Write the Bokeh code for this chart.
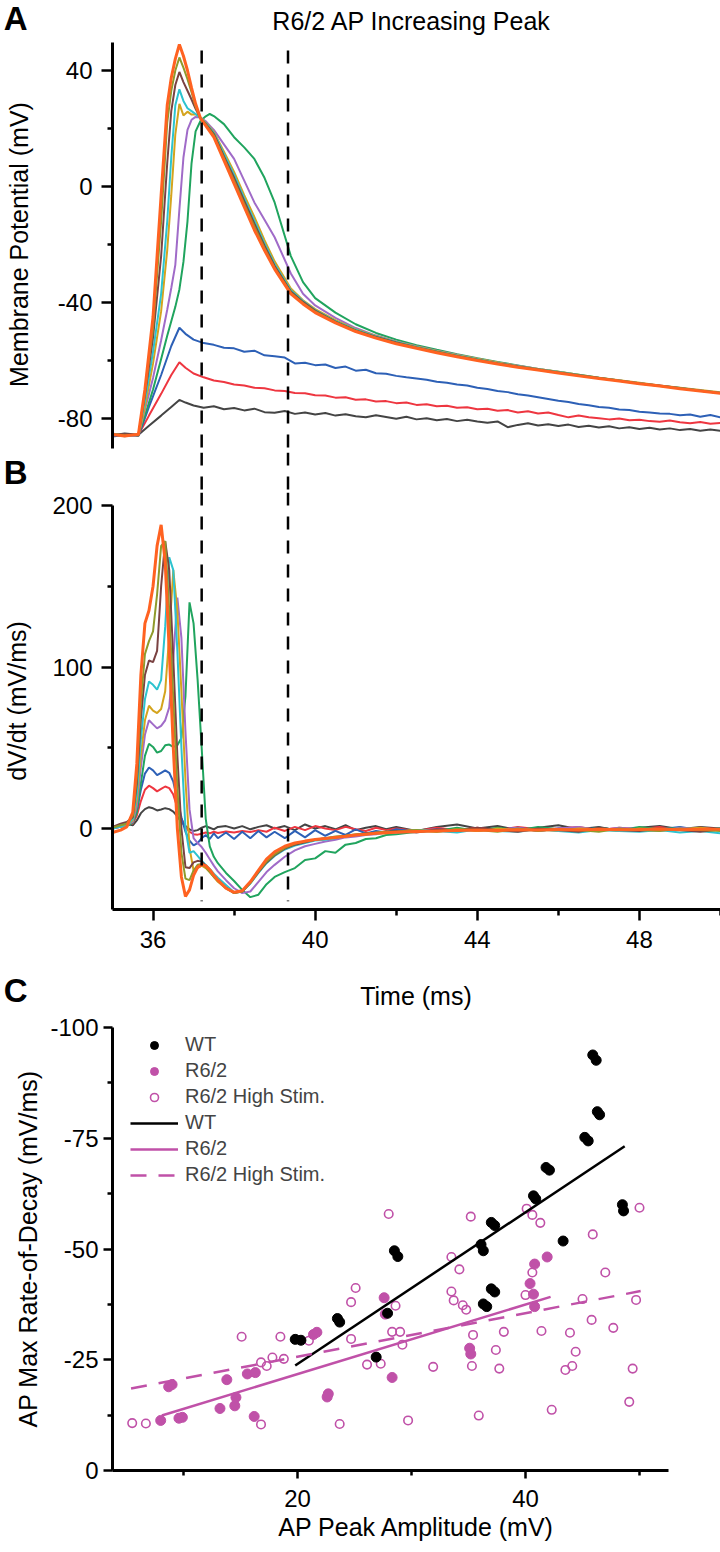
from bokeh.plotting import figure
from bokeh.layouts import column
from bokeh.models import Range1d, FixedTicker, PrintfTickFormatter, Legend, LegendItem
from bokeh.core.properties import value
from bokeh.embed import file_html
from bokeh.resources import INLINE

FONT = "Liberation Sans"

# ---------------- Panel A : membrane potential (mV) ----------------
TA = [35.0, 35.3, 35.64, 35.8, 36.0, 36.2, 36.35, 36.45, 36.55, 36.65,
      36.75, 36.85, 36.95, 37.05, 37.17, 37.3, 37.4, 37.5, 37.75, 38.0,
      38.25, 38.5, 38.75, 39.0, 39.4, 39.7, 40.0, 40.5, 41.0, 41.5,
      42.0, 42.5, 43.0, 43.5, 44.0, 44.5, 45.0, 45.5, 46.0, 46.5,
      47.0, 47.5, 48.0, 48.5, 49.0, 49.5, 50.0]

T_SUB = [35.0, 35.3, 35.64, 35.9, 36.2, 36.45, 36.65, 36.8, 37.0, 37.25,
         37.5, 37.75, 38.0, 38.25, 38.5, 38.75, 39.0, 39.25, 39.5, 39.75,
         40.0, 40.25, 40.5, 40.75, 41.0, 41.25, 41.5, 41.75, 42.0, 42.25,
         42.5, 42.75, 43.0, 43.25, 43.5, 43.75, 44.0, 44.25, 44.5, 44.75,
         45.0, 45.25, 45.5, 45.75, 46.0, 46.25, 46.5, 46.75, 47.0, 47.25,
         47.5, 47.75, 48.0, 48.25, 48.5, 48.75, 49.0, 49.25, 49.5, 49.75, 50.0]

GRAY_A = [-85.8, -85.2, -85.6, -82.5, -79.0, -76.0, -73.6, -74.5, -75.5, -76.3,
          -75.8, -76.8, -76.4, -77.2, -76.6, -77.8, -78.0, -77.4, -78.4, -77.9,
          -78.6, -78.1, -79.0, -78.5, -79.2, -79.6, -78.9, -79.5, -80.1, -79.4,
          -80.3, -79.9, -80.6, -80.2, -80.9, -80.4, -81.0, -81.5, -81.0, -83.0,
          -82.2, -81.6, -82.4, -82.0, -82.6, -82.1, -82.9, -82.5, -83.1, -82.7,
          -83.4, -83.0, -83.6, -83.2, -83.8, -83.4, -84.0, -83.6, -84.2, -83.8, -84.2]
RED_A = [-85.5, -86.0, -85.6, -79.0, -71.5, -65.0, -60.6, -62.5, -64.5, -65.8,
         -66.9, -67.4, -68.3, -68.6, -69.4, -69.6, -70.3, -70.5, -71.2, -71.3,
         -72.0, -72.1, -72.8, -72.7, -73.5, -73.4, -74.1, -74.0, -74.7, -74.5,
         -75.3, -75.1, -75.8, -75.6, -76.3, -76.1, -76.8, -76.6, -77.3, -77.1,
         -77.9, -77.5, -78.3, -77.9, -78.8, -79.6, -79.0, -79.6, -79.9, -80.3,
         -80.0, -80.6, -80.4, -80.9, -81.1, -80.7, -81.3, -81.6, -81.2, -81.8, -81.5]
BLUE_A = [-86.2, -85.7, -86.0, -76.0, -65.0, -55.0, -48.7, -50.8, -52.8, -54.0,
          -54.6, -55.6, -55.8, -57.0, -56.6, -58.2, -58.5, -59.0, -61.0, -60.8,
          -61.6, -61.4, -62.6, -62.1, -63.5, -63.2, -64.4, -64.6, -65.3, -65.8,
          -66.2, -66.6, -67.3, -67.7, -68.3, -68.6, -69.4, -69.8, -70.5, -70.9,
          -71.6, -72.1, -72.7, -73.3, -73.9, -74.3, -75.0, -75.4, -76.0, -76.3,
          -76.9, -77.1, -77.7, -77.9, -78.3, -78.4, -78.9, -78.6, -79.4, -78.8, -79.6]
GREEN_A = [-85.6, -85.9, -85.6, -79.0, -70.0, -59.5, -51.5, -46.5, -41.5, -35.5,
           -26.0, -12.0, 8.0, 19.0, 22.6, 24.2, 25.0, 24.3, 21.5, 17.0,
           13.5, 9.5, 3.0, -5.5, -24.0, -33.0, -38.5, -43.5, -47.5, -50.5,
           -52.8, -54.7, -56.3, -57.8, -59.2, -60.5, -61.7, -62.9, -63.9, -64.9,
           -65.9, -66.9, -67.8, -68.7, -69.5, -70.4, -71.2]
PURPLE_A = [-85.2, -86.0, -85.7, -77.0, -66.0, -53.0, -42.5, -35.0, -27.0, -8.0,
            10.0, 19.5, 23.0, 24.0, 23.8, 22.5, 21.0, 19.5, 14.5, 9.5,
            2.0, -5.5, -11.5, -17.5, -30.0, -37.0, -41.0, -45.3, -48.8, -51.4,
            -53.4, -55.1, -56.6, -58.0, -59.4, -60.7, -61.8, -62.9, -64.0, -65.0,
            -66.0, -66.9, -67.8, -68.6, -69.5, -70.3, -71.1]
GOLD_A = [-85.8, -85.5, -85.9, -76.0, -61.0, -43.0, -22.0, -3.0, 18.0, 28.5,
          24.5, 25.8, 24.8, 24.9, 23.8, 22.0, 20.5, 18.8, 12.0, 5.0,
          -3.0, -10.5, -18.5, -25.8, -35.2, -39.2, -42.3, -46.1, -49.2, -51.5,
          -53.5, -55.2, -56.7, -58.1, -59.4, -60.7, -61.9, -62.9, -63.9, -64.9,
          -65.9, -66.8, -67.7, -68.6, -69.4, -70.2, -71.0]
CYAN_A = [-85.4, -86.1, -85.5, -74.0, -57.0, -37.0, -12.0, 10.0, 28.0, 33.5,
          29.5, 27.0, 26.0, 25.0, 23.6, 21.8, 20.2, 18.5, 11.2, 4.0,
          -4.0, -11.8, -19.6, -26.8, -35.8, -39.5, -42.6, -46.4, -49.4, -51.7,
          -53.6, -55.3, -56.9, -58.3, -59.6, -60.9, -62.0, -63.0, -64.0, -65.0,
          -66.0, -66.9, -67.8, -68.7, -69.5, -70.3, -71.1]
BROWN_A = [-85.7, -85.3, -85.8, -72.0, -52.0, -24.0, 8.0, 26.0, 35.0, 39.5,
           36.0, 33.0, 30.0, 26.8, 23.5, 21.6, 19.9, 18.1, 10.4, 3.0,
           -5.0, -12.8, -20.4, -27.4, -36.2, -39.8, -42.8, -46.6, -49.6, -51.9,
           -53.8, -55.5, -57.0, -58.4, -59.7, -61.0, -62.1, -63.1, -64.1, -65.1,
           -66.0, -67.0, -67.9, -68.7, -69.6, -70.4, -71.2]
OLIVE_A = [-85.3, -85.8, -85.6, -71.0, -49.0, -12.0, 22.0, 33.0, 40.0, 44.5,
           41.0, 37.0, 32.5, 27.5, 23.4, 21.3, 19.5, 17.6, 9.8, 2.0,
           -6.0, -13.8, -21.2, -28.0, -36.6, -40.2, -43.1, -46.8, -49.8, -52.1,
           -54.0, -55.6, -57.1, -58.5, -59.8, -61.1, -62.2, -63.2, -64.2, -65.2,
           -66.1, -67.0, -67.9, -68.8, -69.6, -70.4, -71.2]
ORANGE_A = [-85.5, -86.0, -85.4, -70.0, -45.0, -3.0, 28.0, 37.5, 44.0, 49.0,
            45.0, 40.0, 34.0, 28.5, 23.5, 21.0, 19.0, 17.0, 9.0, 1.0,
            -7.0, -15.0, -22.0, -28.5, -37.0, -40.5, -43.5, -47.0, -50.0, -52.3,
            -54.2, -55.8, -57.3, -58.7, -60.0, -61.2, -62.3, -63.3, -64.3, -65.3,
            -66.2, -67.1, -68.0, -68.8, -69.7, -70.5, -71.3]

A_YTICKS = [-80, -40, 0, 40]
A_YMINOR = [-60, -20, 20]

# ---------------- Panel B : dV/dt (mV/ms) ----------------
TB = [35.0, 35.2, 35.35, 35.5, 35.6, 35.7, 35.8, 35.9, 36.0, 36.1,
      36.2, 36.3, 36.4, 36.5, 36.6, 36.7, 36.8, 36.9, 37.0, 37.1,
      37.2, 37.3, 37.4, 37.5, 37.6, 37.8, 38.0, 38.2, 38.4, 38.6,
      38.8, 39.0, 39.25, 39.5, 39.75, 40.0, 40.25, 40.5, 40.75, 41.0,
      41.25, 41.5, 41.75, 42.0, 42.5, 43.0, 43.5, 44.0, 44.5, 45.0,
      45.5, 46.0, 46.5, 47.0, 47.5, 48.0, 48.5, 49.0, 49.5, 50.0]

GRAY_B = [0.5, 1.5, 3.0, 2.0, 5.0, 9.5, 12.0, 13.2, 12.5, 11.2,
          11.8, 12.6, 12.0, 10.5, 7.5, 4.0, 1.5, -0.5, -1.5, -1.0,
          0.5, 1.5, 0.5, -0.5, 1.0, 1.5, 0.0, 1.5, -0.5, 1.0,
          2.0, 0.0, 1.5, -1.0, 2.5, 0.0, 1.5, -0.5, 2.0, -1.0,
          0.5, 1.5, -0.5, 1.0, -1.5, 1.0, 2.5, 0.0, 1.5, -1.0,
          0.5, 2.0, -0.5, 1.0, -1.5, 0.5, 1.5, -0.5, 1.0, 0.0]
RED_B = [0.0, 1.0, 2.5, 3.0, 8.0, 17.0, 24.0, 26.5, 25.0, 23.0,
         24.5, 26.0, 25.0, 21.0, 13.0, 6.0, 1.0, -2.0, -3.5, -3.8,
         -3.2, -2.5, -3.0, -2.0, -2.8, -1.8, -2.5, -1.5, -2.2, -1.0,
         -2.0, 0.5, -1.5, 1.0, -1.0, 1.5, 0.0, -1.0, 1.0, -0.5,
         -1.5, 0.5, -1.0, 0.0, -1.5, 0.5, -1.0, 0.5, -1.0, 1.0,
         -0.5, 0.0, 1.0, -1.0, 0.5, -0.5, 1.0, -1.0, 0.5, -0.5]
BLUE_B = [0.0, 1.5, 2.0, 4.0, 11.0, 24.0, 34.0, 37.8, 36.0, 33.0,
          34.5, 36.0, 34.5, 29.0, 18.0, 7.0, -2.0, -7.5, -10.5, -9.0,
          -6.0, -4.0, -6.5, -3.0, -6.0, -2.5, -6.5, -2.0, -6.0, -1.5,
          -5.5, -2.0, -6.0, -1.5, -5.5, -1.0, -4.5, -1.5, -4.0, -0.5,
          -3.0, -1.5, -2.5, -0.5, -2.0, -0.5, -1.5, 0.0, -1.0, 0.5,
          -1.5, 0.0, -1.0, 0.5, -1.0, 0.0, -0.5, 1.0, -1.0, 0.0]
GREEN_B = [0.5, 2.0, 1.5, 3.5, 10.0, 28.0, 45.0, 52.5, 50.5, 47.0,
           48.0, 51.5, 52.0, 50.5, 51.5, 56.0, 82.0, 140.0, 127.0, 92.0,
           50.0, 6.0, -11.0, -17.5, -21.5, -27.5, -32.5, -38.0, -42.5, -41.0,
           -34.5, -30.0, -27.0, -24.5, -19.5, -18.5, -14.0, -15.0, -10.0, -9.0,
           -6.5, -6.0, -4.0, -3.5, -2.0, -1.5, 0.5, -1.5, 0.5, -1.0,
           1.0, -0.5, -1.5, 0.5, -1.0, 1.0, -0.5, 0.5, -1.0, 0.0]
PURPLE_B = [0.0, 1.0, 2.5, 4.0, 14.0, 38.0, 58.0, 67.0, 64.5, 62.0,
            63.5, 67.0, 75.0, 105.0, 143.0, 118.0, 60.0, 12.0, -6.0, -9.0,
            -11.5, -15.0, -19.0, -23.0, -26.5, -32.0, -37.0, -40.0, -39.0, -33.0,
            -27.0, -22.5, -17.5, -13.5, -11.0, -9.5, -8.0, -7.0, -5.5, -5.0,
            -4.0, -3.5, -2.5, -2.5, -1.5, -0.5, -2.0, 0.0, -1.0, 0.5,
            -1.5, 0.0, 1.0, -1.0, 0.5, -0.5, -1.5, 0.5, -0.5, -1.0]
GOLD_B = [0.5, 1.5, 2.0, 5.0, 18.0, 45.0, 67.0, 76.0, 73.0, 71.5,
          74.0, 85.0, 120.0, 160.0, 135.0, 85.0, 30.0, -12.0, -26.0, -24.5,
          -23.0, -24.5, -27.0, -30.0, -33.0, -37.0, -39.5, -39.0, -34.0, -27.0,
          -21.0, -16.5, -12.5, -10.0, -8.5, -7.0, -6.5, -5.5, -5.0, -4.0,
          -3.5, -3.0, -3.0, -2.0, -1.0, -2.0, -0.5, -1.5, 0.0, -1.0,
          -0.5, -1.5, 0.0, -0.5, -1.5, 0.0, -1.0, -0.5, 0.5, -1.0]
CYAN_B = [0.0, 1.0, 1.5, 6.0, 22.0, 55.0, 80.0, 91.0, 89.0, 86.0,
          92.0, 125.0, 168.0, 160.0, 110.0, 50.0, 0.0, -15.0, -14.0, -17.0,
          -20.0, -22.5, -25.0, -28.0, -30.5, -35.0, -39.5, -39.0, -34.0, -27.5,
          -21.5, -17.0, -13.0, -10.5, -9.0, -7.5, -7.0, -6.0, -4.5, -4.0,
          -3.0, -3.0, -2.0, -2.5, -1.0, -1.5, -2.5, -0.5, -1.5, -2.0,
          -0.5, -1.5, -2.5, -1.0, -1.5, -2.0, -1.0, -2.5, -1.5, -3.0]
BROWN_B = [1.0, 3.0, 4.0, 7.0, 28.0, 68.0, 95.0, 104.0, 103.0, 110.0,
           150.0, 178.0, 160.0, 105.0, 45.0, 0.0, -24.0, -24.5, -21.0, -20.0,
           -20.5, -23.0, -26.5, -29.5, -32.0, -36.5, -40.0, -39.0, -33.5, -27.0,
           -21.0, -16.5, -12.5, -10.0, -8.5, -7.0, -6.0, -5.5, -4.5, -4.0,
           -3.0, -3.0, -2.0, -1.5, -2.5, -0.5, -1.5, 0.5, -1.0, -2.0,
           0.0, -1.0, -2.0, 0.5, -1.0, -1.5, 0.0, -1.0, -2.0, -0.5]
OLIVE_B = [0.5, 2.0, 3.0, 8.0, 32.0, 78.0, 108.0, 116.0, 122.0, 145.0,
           175.0, 178.0, 135.0, 80.0, 25.0, -15.0, -31.0, -32.0, -26.0, -22.5,
           -22.0, -24.0, -27.0, -30.0, -32.5, -37.0, -40.0, -39.0, -33.5, -26.5,
           -20.5, -16.0, -12.0, -9.5, -8.0, -7.0, -6.0, -5.0, -4.5, -3.5,
           -3.5, -2.5, -2.0, -2.0, -1.0, -2.0, -0.5, -1.0, -2.0, 0.0,
           -1.5, -0.5, -1.0, -2.0, 0.0, -1.0, -1.5, 0.0, -1.0, -1.5]
ORANGE_B = [-2.5, -1.0, 1.0, 10.0, 40.0, 95.0, 127.0, 135.0, 150.0, 175.0,
            188.0, 165.0, 110.0, 50.0, 0.0, -30.0, -42.0, -38.0, -29.0, -24.0,
            -22.5, -23.0, -25.5, -29.0, -32.0, -37.0, -39.5, -38.5, -33.0, -26.0,
            -19.0, -14.5, -11.0, -9.0, -7.8, -6.8, -6.2, -5.5, -4.8, -4.0,
            -3.5, -3.0, -2.6, -2.3, -1.8, -1.5, -1.2, -1.0, -1.2, -0.8,
            -1.0, -0.6, -1.0, -0.5, -0.8, -0.6, -0.3, -0.8, -0.5, -0.4]

B_YTICKS = [0, 100, 200]
B_YMINOR = [50, 150]
B_XTICKS = [36, 40, 44, 48]
B_XMINOR = [38, 42, 46, 50]
MARK_TIMES = [37.2, 39.33]

COLORS = ["#444444", "#EE3640", "#2D60B6", "#20A45E", "#A06BC8",
          "#D4A41E", "#2CC3CF", "#7A4242", "#8F9A2B", "#FF6221"]
A_TRACES = [(T_SUB, GRAY_A), (T_SUB, RED_A), (T_SUB, BLUE_A), (TA, GREEN_A), (TA, PURPLE_A),
            (TA, GOLD_A), (TA, CYAN_A), (TA, BROWN_A), (TA, OLIVE_A), (TA, ORANGE_A)]
B_TRACES = [GRAY_B, RED_B, BLUE_B, GREEN_B, PURPLE_B, GOLD_B, CYAN_B, BROWN_B, OLIVE_B, ORANGE_B]

# ---------------- Panel C : scatter ----------------
WT_X = [45.9, 46.2, 46.3, 46.5, 45.2, 45.5, 41.8, 42.1, 40.7, 40.9, 48.5, 48.6, 37.0, 37.3,
        36.1, 36.3, 43.3, 28.5, 28.8, 37.0, 37.3, 36.3, 36.6, 27.9, 23.5, 23.7, 19.8, 20.3, 26.9]
WT_Y = [-93.8, -92.6, -81.0, -80.3, -75.2, -74.4, -68.4, -67.8, -62.0, -61.3, -60.0, -58.6, -56.0, -55.3,
        -51.0, -49.6, -51.8, -49.6, -48.3, -41.0, -40.3, -37.6, -37.0, -35.5, -34.3, -33.5, -29.6, -29.4, -25.6]
R62_X = [8.0, 9.6, 9.9, 8.7, 9.0, 13.2, 13.8, 14.5, 14.6, 15.6, 16.3, 16.2, 21.4, 21.7, 22.6, 22.7,
         27.6, 27.7, 28.3, 35.1, 35.2, 40.4, 40.7, 40.8, 40.8, 41.9]
R62_Y = [-11.3, -11.8, -12.0, -18.9, -19.4, -14.0, -20.5, -14.6, -16.5, -21.8, -22.1, -12.2, -30.7, -31.2,
         -16.6, -17.3, -39.0, -35.3, -21.0, -27.6, -26.3, -42.2, -39.8, -37.0, -46.6, -48.2]
HS_X = [5.5, 6.7, 15.1, 18.5, 16.8, 16.8, 17.3, 17.8, 18.8, 21.0, 23.7, 24.7, 24.7, 25.1, 26.1,
        27.3, 28.3, 29.0, 29.2, 28.6, 29.7, 31.9, 33.7, 34.5, 34.8, 33.5, 35.4, 35.3, 35.9, 37.4,
        37.7, 38.1, 41.4, 42.3, 43.5, 43.9, 44.1, 44.4, 45.8, 47.7, 49.1, 49.4, 49.7, 28.0, 35.2,
        40.1, 40.6, 41.3, 50.0, 45.9, 33.5, 34.2, 40.6, 47.0, 40.0, 45.0]
HS_Y = [-10.7, -10.6, -30.2, -30.2, -10.4, -24.4, -23.6, -25.5, -25.2, -29.3, -10.5, -29.7, -38.0, -41.2, -23.9,
        -24.1, -31.3, -31.3, -28.4, -37.2, -11.3, -23.4, -38.4, -37.3, -36.3, -40.4, -30.6, -23.6, -12.4, -27.2,
        -23.0, -31.3, -31.5, -13.7, -22.7, -31.1, -23.6, -26.8, -34.0, -32.2, -15.5, -23.0, -38.5, -57.9, -57.3,
        -59.1, -57.7, -55.9, -59.3, -53.3, -48.2, -45.4, -44.7, -44.7, -39.6, -38.7]
WT_FIT_X = [19.8, 48.7]
WT_FIT_Y = [-23.7, -73.2]
R62_FIT_X = [8.1, 42.2]
R62_FIT_Y = [-12.4, -39.2]
HS_FIT_X = [5.4, 50.1]
HS_FIT_Y = [-18.5, -40.5]
C_XTICKS = [20, 40]
C_XMINOR = [10, 30, 50]
C_YTICKS = [-100, -75, -50, -25, 0]
C_YMINOR = [-87.5, -62.5, -37.5, -12.5]

MAG = "#C051A8"

PXMS = 608 / 15.0   # pixels per ms in panels A and B (frame 112..720)


def style_axis(ax, ticks, minor, standoff, tick_out=11, minor_out=5):
    ax.ticker = FixedTicker(ticks=ticks, minor_ticks=minor)
    ax.formatter = PrintfTickFormatter(format="%d")
    ax.axis_line_width = 3
    ax.axis_line_color = "black"
    ax.major_tick_line_width = 2.5
    ax.minor_tick_line_width = 2.5
    ax.major_tick_line_color = "black"
    ax.minor_tick_line_color = "black"
    ax.major_tick_in = 0
    ax.major_tick_out = tick_out
    ax.minor_tick_in = 0
    ax.minor_tick_out = minor_out
    ax.major_label_text_font = FONT
    ax.major_label_text_font_size = "24px"
    ax.major_label_text_color = "black"
    ax.major_label_standoff = standoff
    ax.axis_label_text_font = FONT
    ax.axis_label_text_font_size = "25px"
    ax.axis_label_text_font_style = "normal"
    ax.axis_label_text_color = "black"


def strip(height, y_top, letter):
    """A thin figure that carries a panel letter (as its axis title) and glue marks."""
    s = figure(width=720, height=height, x_range=Range1d(35, 50.0),
               y_range=Range1d(y_top + height, y_top), output_backend="svg",
               toolbar_location=None, x_axis_location=None,
               min_border_left=112, min_border_right=0, min_border_top=0, min_border_bottom=0)
    s.outline_line_color = None
    s.grid.visible = False
    ax = s.yaxis[0]
    ax.ticker = FixedTicker(ticks=[])
    ax.axis_line_color = None
    ax.major_tick_line_color = None
    ax.minor_tick_line_color = None
    ax.major_tick_in = 0
    ax.major_tick_out = 0
    ax.minor_tick_in = 0
    ax.minor_tick_out = 0
    ax.major_label_standoff = 0
    ax.axis_label = letter
    ax.axis_label_orientation = "horizontal"
    ax.axis_label_standoff = 85
    ax.axis_label_text_font = FONT
    ax.axis_label_text_font_size = "33px"
    ax.axis_label_text_font_style = "bold"
    ax.axis_label_text_color = "black"
    return s


def put_text(p, x, y, text, size, align="left"):
    p.text(x=[x], y=[y], text=[text], text_font=value(FONT), text_font_size=value(size),
           text_color="black", text_align=value(align), text_baseline=value("alphabetic"))


# ---- strip with "A" and title ----
hA = strip(36, 0, "A")
put_text(hA, 35 + (411.5 - 112) / PXMS, 20, "R6/2 AP Increasing Peak", "25px", align="center")

# ---- A ----
pA = figure(width=720, height=416, x_range=Range1d(35, 50.0), y_range=Range1d(-91.72, 51.72),
            output_backend="svg", toolbar_location=None, x_axis_location=None,
            min_border_left=112, min_border_right=0, min_border_top=0, min_border_bottom=0)
pA.outline_line_color = None
pA.grid.visible = False
style_axis(pA.yaxis[0], A_YTICKS, A_YMINOR, 9)
pA.yaxis[0].bounds = (-90.34, 49.655)
pA.yaxis[0].axis_label = "Membrane Potential (mV)"
pA.yaxis[0].axis_label_standoff = 22
for (t, v), c in zip(A_TRACES, COLORS):
    pA.line(t, v, line_color=c, line_width=3 if c == "#FF6221" else 2)
pA.segment(x0=MARK_TIMES, y0=[46.9, 46.9], x1=MARK_TIMES, y1=[-91.72, -91.72],
           line_color="black", line_width=2.5, line_dash="13 11")

# ---- strip with "B" ----
hB = strip(40, 452, "B")
hB.segment(x0=MARK_TIMES, y0=[452, 452], x1=MARK_TIMES, y1=[492, 492],
           line_color="black", line_width=2.5, line_dash="13 11")

# ---- B ----
pB = figure(width=720, height=478, x_range=Range1d(35, 50.0), y_range=Range1d(-50.15, 208.05),
            output_backend="svg", toolbar_location=None,
            min_border_left=112, min_border_right=0, min_border_top=0, min_border_bottom=61)
pB.outline_line_color = None
pB.grid.visible = False
style_axis(pB.yaxis[0], B_YTICKS, B_YMINOR, 9)
pB.yaxis[0].bounds = (-50.15, 200)
pB.yaxis[0].axis_label = "dV/dt (mV/ms)"
pB.yaxis[0].axis_label_standoff = 18
style_axis(pB.xaxis[0], B_XTICKS, B_XMINOR, 10, tick_out=11, minor_out=6)
for v, c in zip(B_TRACES, COLORS):
    pB.line(TB, v, line_color=c, line_width=3 if c == "#FF6221" else 2)
pB.segment(x0=MARK_TIMES, y0=[208.05, 208.05], x1=MARK_TIMES, y1=[-45, -45],
           line_color="black", line_width=2.5, line_dash="13 11")

# ---- strip with "C" and the time axis title ----
hC = strip(40, 970, "C")
put_text(hC, 35 + (415.5 - 112) / PXMS, 995, "Time (ms)", "25px", align="center")

# ---- C ----
pC = figure(width=720, height=540, x_range=Range1d(3.772, 57.105), y_range=Range1d(0, -100),
            output_backend="svg", toolbar_location=None,
            min_border_left=112, min_border_right=0, min_border_top=17, min_border_bottom=80)
pC.outline_line_color = None
pC.grid.visible = False
style_axis(pC.yaxis[0], C_YTICKS, C_YMINOR, 5, tick_out=9, minor_out=5)
pC.yaxis[0].axis_label = "AP Max Rate-of-Decay (mV/ms)"
pC.yaxis[0].axis_label_standoff = 5
style_axis(pC.xaxis[0], C_XTICKS, C_XMINOR, 11, tick_out=8, minor_out=5)
pC.xaxis[0].bounds = (3.772, 52.544)
pC.xaxis[0].axis_label = "AP Peak Amplitude (mV)"
pC.xaxis[0].axis_label_standoff = 3
r_hs = pC.scatter(HS_X, HS_Y, marker="circle", size=8.5, fill_color=None, line_color=MAG, line_width=1.6)
r_r62 = pC.scatter(R62_X, R62_Y, marker="circle", size=10, fill_color=MAG, line_color=MAG)
r_wt = pC.scatter(WT_X, WT_Y, marker="circle", size=10, fill_color="black", line_color="black")
l_wt = pC.line(WT_FIT_X, WT_FIT_Y, line_color="black", line_width=2.5)
l_r62 = pC.line(R62_FIT_X, R62_FIT_Y, line_color=MAG, line_width=2.5)
l_hs = pC.line(HS_FIT_X, HS_FIT_Y, line_color=MAG, line_width=2.5, line_dash="16 12")
legend = Legend(items=[LegendItem(label="WT", renderers=[r_wt]),
                       LegendItem(label="R6/2", renderers=[r_r62]),
                       LegendItem(label="R6/2 High Stim.", renderers=[r_hs]),
                       LegendItem(label="WT", renderers=[l_wt]),
                       LegendItem(label="R6/2", renderers=[l_r62]),
                       LegendItem(label="R6/2 High Stim.", renderers=[l_hs])],
                location=(18, 284), orientation="vertical", padding=0, margin=0, spacing=3,
                glyph_width=48, glyph_height=20, label_height=20, label_standoff=7,
                label_text_font=FONT, label_text_font_size="20px",
                background_fill_alpha=0, border_line_color=None)
pC.add_layout(legend)

layout = column(hA, pA, hB, pB, hC, pC)
open("out.html", "w").write(file_html(layout, INLINE))
